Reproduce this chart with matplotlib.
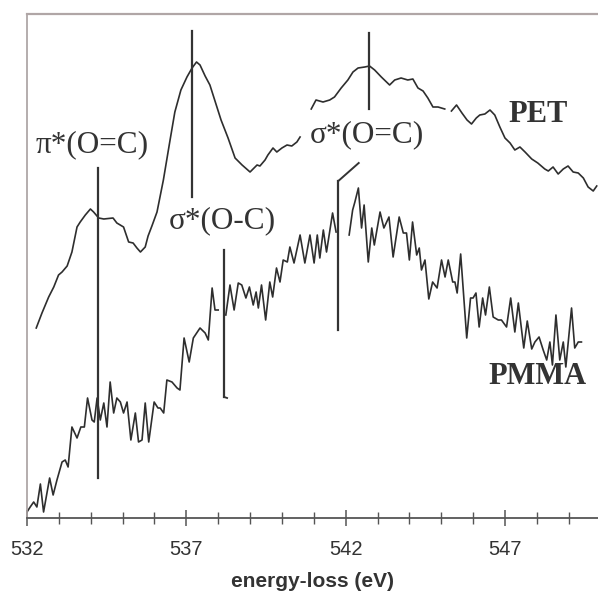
import numpy as np
import matplotlib
matplotlib.use("Agg")
import matplotlib.pyplot as plt
from matplotlib.ticker import MultipleLocator

nan = np.nan

# ---- PET spectrum (energy-loss eV, intensity arb.) ----
pet_energy = [532.29, 532.47, 532.68, 532.84, 532.99, 533.10, 533.26, 533.41, 533.57, 533.67,
              533.83, 533.99, 534.09, 534.25, 534.41, 534.70, 534.82, 535.03, 535.19, 535.33,
              535.45, 535.56, 535.71, 535.80, 535.92, 536.08, 536.28, 536.49, 536.64, 536.83,
              537.02, 537.18, 537.32, 537.43, 537.59, 537.74, 537.90, 538.09, 538.31, 538.53,
              538.75, 539.00, 539.22, 539.31, 539.47, 539.56, 539.72, 539.84, 540.00, 540.16,
              540.31, 540.47, 540.57, 540.75,
              540.92, 541.07, 541.29, 541.50, 541.65, 541.86, 542.07, 542.23, 542.39, 542.60,
              542.75, 542.91, 543.12, 543.38, 543.54, 543.74, 543.95, 544.11, 544.27, 544.43,
              544.58, 544.74, 544.90, 545.11, 545.20,
              545.32, 545.48, 545.65, 545.81, 545.95, 546.10, 546.21, 546.37, 546.53, 546.68,
              546.84, 547.00, 547.16, 547.31, 547.47, 547.63, 547.84, 548.03, 548.25, 548.36,
              548.51, 548.67, 548.83, 548.98, 549.14, 549.30, 549.46, 549.61, 549.77, 549.88]
pet_intensity = [190, 205, 221, 231, 243, 246, 252, 266, 291, 296,
                 303, 309, 306, 300, 299, 300, 295, 291, 276, 275,
                 270, 266, 271, 282, 292, 306, 338, 378, 406, 428,
                 441, 450, 456, 453, 442, 433, 417, 398, 380, 360,
                 353, 346, 353, 352, 358, 363, 370, 366, 370, 373,
                 372, 376, 381, nan,
                 409, 418, 416, 418, 421, 430, 438, 446, 450, 451,
                 452, 448, 441, 433, 438, 440, 438, 439, 430, 427,
                 420, 411, 411, 409, nan,
                 407, 413, 405, 398, 394, 400, 403, 404, 408, 403,
                 391, 380, 375, 368, 371, 366, 359, 355, 349, 347,
                 351, 344, 349, 352, 346, 345, 340, 331, 327, 332]

# ---- PMMA spectrum ----
pmma_energy = [532.00, 532.10, 532.21, 532.31, 532.42, 532.52, 532.63, 532.71, 532.82, 532.94,
               533.10, 533.20, 533.29, 533.41, 533.57, 533.69, 533.80, 533.90, 534.04, 534.11,
               534.20, 534.30, 534.41, 534.51, 534.61, 534.72, 534.82, 534.93, 535.03, 535.14,
               535.26, 535.40, 535.50, 535.61, 535.71, 535.82, 535.99, 536.11, 536.18, 536.29,
               536.39, 536.55, 536.71, 536.80, 536.93, 537.09, 537.22, 537.43, 537.59, 537.69,
               537.81, 537.90, 538.00, 538.12,
               538.24, 538.37, 538.50, 538.63, 538.74, 538.87, 538.98, 539.10, 539.19, 539.26,
               539.36, 539.49, 539.62, 539.71, 539.83, 539.94, 540.04, 540.17, 540.25, 540.38,
               540.57, 540.72, 540.88, 541.01, 541.11, 541.19, 541.30, 541.40, 541.59, 541.70,
               541.90,
               542.11, 542.22, 542.29, 542.40, 542.50, 542.58, 542.71, 542.82, 542.90, 543.08,
               543.20, 543.36, 543.49, 543.68, 543.81, 543.91, 544.00, 544.10, 544.23, 544.31,
               544.38, 544.49, 544.61, 544.73, 544.87, 545.01, 545.12, 545.22, 545.36, 545.43,
               545.50, 545.61, 545.80, 545.92, 546.00, 546.09, 546.19, 546.30, 546.39, 546.51,
               546.63, 546.79, 546.89, 547.05, 547.18, 547.31, 547.42, 547.59, 547.70, 547.84,
               547.94, 548.07, 548.20, 548.31, 548.41, 548.49, 548.60, 548.72, 548.83, 548.91,
               549.09, 549.19, 549.30, 549.40]
pmma_intensity = [6, 11, 16, 11, 34, 6, 26, 40, 23, 38,
                  56, 58, 51, 91, 80, 91, 91, 120, 98, 96,
                  120, 98, 115, 91, 136, 105, 120, 116, 105, 116,
                  78, 105, 76, 78, 115, 76, 116, 110, 110, 105,
                  138, 136, 130, 128, 180, 156, 180, 190, 185, 178,
                  230, 208, 208, nan,
                  203, 233, 208, 235, 233, 220, 231, 213, 226, 210,
                  233, 198, 236, 221, 250, 236, 258, 256, 271, 255,
                  283, 255, 283, 255, 283, 260, 288, 266, 305, 286,
                  nan,
                  283, 308, 316, 330, 290, 313, 256, 290, 273, 306,
                  290, 301, 261, 301, 285, 285, 258, 296, 263, 270,
                  248, 258, 219, 236, 230, 258, 241, 258, 236, 236,
                  225, 264, 180, 220, 220, 225, 191, 220, 203, 231,
                  201, 198, 198, 191, 220, 186, 215, 170, 197, 169,
                  176, 181, 168, 158, 176, 153, 203, 158, 176, 151,
                  210, 170, 176, 176]

# ---- peak-assignment markers ----
marker_energy = [534.24, 537.17, 538.19, 542.72, 541.77]
marker_top = [350, 487, 268, 485, 337]
marker_bottom = [40, 321, 121, 409, 188]
label_texts = ["π*(O=C)", "σ*(O-C)", "σ*(O=C)"]
label_energy = [534.04, 538.12, 542.67]
label_intensity = [373, 297, 383]
series_names = ["PET", "PMMA"]
series_label_energy = [548.03, 548.03]
series_label_intensity = [404, 141]

xticks = [532, 537, 542, 547]

W, H = 598, 593
fig = plt.figure(figsize=(W / 100, H / 100), dpi=100)
ax = fig.add_axes([27 / W, 75 / H, 571 / W, 504 / H])

line_col = "#2e2e2e"
ax.plot(pet_energy, pet_intensity, color=line_col, lw=1.2)
ax.plot(pmma_energy, pmma_intensity, color=line_col, lw=1.2)

for e, t, b in zip(marker_energy, marker_top, marker_bottom):
    ax.plot([e, e], [b, t], color="#333333", lw=1.6)
# small hook at bottom of the second sigma*(O-C) marker
ax.plot([marker_energy[2], marker_energy[2] + 0.09], [marker_bottom[2], marker_bottom[2] - 1],
        color="#333333", lw=1.3)
# pointer from sigma*(O=C) label to PMMA marker
ax.plot([marker_energy[4], marker_energy[4] + 0.64], [marker_top[4], marker_top[4] + 18],
        color="#333333", lw=1.4)

for txt, e, i in zip(label_texts, label_energy, label_intensity):
    ax.text(e, i, txt, ha="center", va="center", fontsize=22.5,
            family="Liberation Serif", color="#333333")
for txt, e, i in zip(series_names, series_label_energy, series_label_intensity):
    ax.text(e, i, txt, ha="center", va="center", fontsize=22,
            family="Liberation Serif", fontweight="bold", color="#333333")

ax.set_xlim(532, 549.92)
ax.set_ylim(0, 504)
ax.set_yticks([])
ax.set_xticks(xticks)
ax.set_xticklabels([str(v) for v in xticks])
ax.xaxis.set_minor_locator(MultipleLocator(1))
ax.tick_params(axis="x", which="major", direction="inout", length=12, width=1.1,
               color="#555555", labelsize=14.5, labelcolor="#333333", pad=10)
ax.tick_params(axis="x", which="minor", direction="inout", length=8, width=1.0,
               color="#555555")
for lab in ax.get_xticklabels():
    lab.set_family("Liberation Sans")

ax.set_xlabel("energy-loss (eV)", fontsize=15, fontweight="bold", family="Liberation Sans",
              color="#333333", labelpad=9)

ax.spines["right"].set_visible(False)
ax.spines["top"].set_color("#b0a6a6")
ax.spines["top"].set_linewidth(1.6)
ax.spines["left"].set_color("#a8a0a0")
ax.spines["left"].set_linewidth(1.2)
ax.spines["bottom"].set_color("#555555")
ax.spines["bottom"].set_linewidth(1.3)

fig.savefig("out.png", dpi=100)
